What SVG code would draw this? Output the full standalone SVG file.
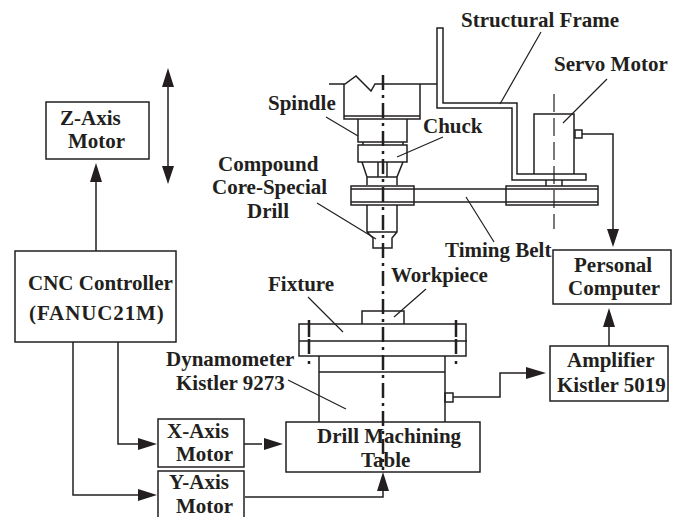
<svg xmlns="http://www.w3.org/2000/svg" width="679" height="517" viewBox="0 0 679 517">
<style>
text{font-family:"Liberation Serif","Times New Roman",serif;font-weight:bold;font-size:21px;fill:#231f20}
.l{fill:none;stroke:#231f20;stroke-width:1.5}
.t{fill:none;stroke:#231f20;stroke-width:1.2}
.b{fill:#fff;stroke:#231f20;stroke-width:1.5}
.a{fill:#231f20;stroke:none}
.c{fill:none;stroke:#231f20;stroke-width:2.5;stroke-dasharray:15 5 3 5}
.s{fill:none;stroke:#231f20;stroke-width:2.5;stroke-dasharray:17 2 15 7 3}
.d{fill:none;stroke:#231f20;stroke-width:1.2;stroke-dasharray:18 6}
</style>
<rect width="679" height="517" fill="#fff"/>
<g id="machine">
<path class="l" d="M329 84H345L356 76L371 91L375 84H437M443 28H437V108H512V180H586V174H517V103H443V28ZM344 84V119H420V84M344 116H420M358 119V142H407V119M363 142V145M403 142V145M358 145H407V162H358ZM362 162L367 177V185M403 162L397 177V185M367 177H397M378 162V177M387 162V177M351 186H414V205H351ZM351 189H414M351 202H414M414 189H506M414 202H506M506 186H598V205H506ZM506 189H598M506 202H598M367 205V232L373 238V248H392V238L397 232V205M367 232H397M534 174V114H574V174M546 180V186M562 180V186M362 324V311H404V324M299 324H466V356H299ZM299 341H467M319 356V422M445 356V422M319 372H445"/>
<path class="d" d="M554 94V229"/>
<path class="c" d="M383 75V470"/>
<path class="s" d="M309 320V366M456 320V366"/>
</g>
<g id="connectors">
<path class="l" d="M168 87V166M96 182V251M118 342V444H140M73 342V495H140M241 444H262M245 497H383V490M453 397H500V373H528M582 134H613V230M609 346V326"/>
<path class="a" d="M168 68L162 87H174ZM168 184L162 166H174ZM96 163L90 182H102ZM157 444L138 438V450ZM157 495L138 489V501ZM283 444L264 438V450ZM383 472L377 491H389ZM546 373L526 367V379ZM613 247L607 229H619ZM609 308L603 327H615Z"/>
<path class="t" d="M541 32L500 104M607 79L563 123M326 117L358 136M443 137L397 157M317 203L376 239M466 197L494 242M426 289L394 317M308 297L343 332M288 380L346 409"/>
</g>
<g id="servo-port"><rect class="l" x="575" y="130" width="7" height="8"/></g>
<g id="dynamometer-port"><rect class="l" x="445" y="393" width="8" height="9"/></g>
<g id="z-motor"><rect class="b" x="46" y="102" width="103" height="57"/><text x="60" y="125">Z-Axis</text><text x="68" y="148">Motor</text></g>
<g id="cnc"><rect class="b" x="15" y="251" width="161" height="91"/><text x="28" y="290">CNC Controller</text><text x="29" y="320" letter-spacing="0.9">(FANUC21M)</text></g>
<g id="x-motor"><rect class="b" x="158" y="419" width="86" height="48"/><text x="167" y="438">X-Axis</text><text x="176" y="461">Motor</text></g>
<g id="y-motor"><rect class="b" x="158" y="471" width="86" height="50"/><text x="169" y="489">Y-Axis</text><text x="176" y="513">Motor</text></g>
<g id="table"><rect class="l" x="286" y="422" width="194" height="50"/><text x="317" y="443">Drill Machining</text><text x="361" y="467">Table</text></g>
<g id="amplifier"><rect class="b" x="550" y="346" width="118" height="55"/><text x="567" y="367">Amplifier</text><text x="557" y="392">Kistler 5019</text></g>
<g id="computer"><rect class="b" x="553" y="250" width="118" height="54"/><text x="574" y="272">Personal</text><text x="568" y="295">Computer</text></g>
<g id="labels">
<text x="461" y="27">Structural Frame</text>
<text x="554" y="71">Servo Motor</text>
<text x="268" y="110">Spindle</text>
<text x="423" y="133">Chuck</text>
<text x="218" y="171">Compound</text>
<text x="212" y="194">Core-Special</text>
<text x="247" y="218">Drill</text>
<text x="445" y="257">Timing Belt</text>
<text x="268" y="291">Fixture</text>
<text x="391" y="282">Workpiece</text>
<text x="166" y="366">Dynamometer</text>
<text x="176" y="390">Kistler 9273</text>
</g>
</svg>
